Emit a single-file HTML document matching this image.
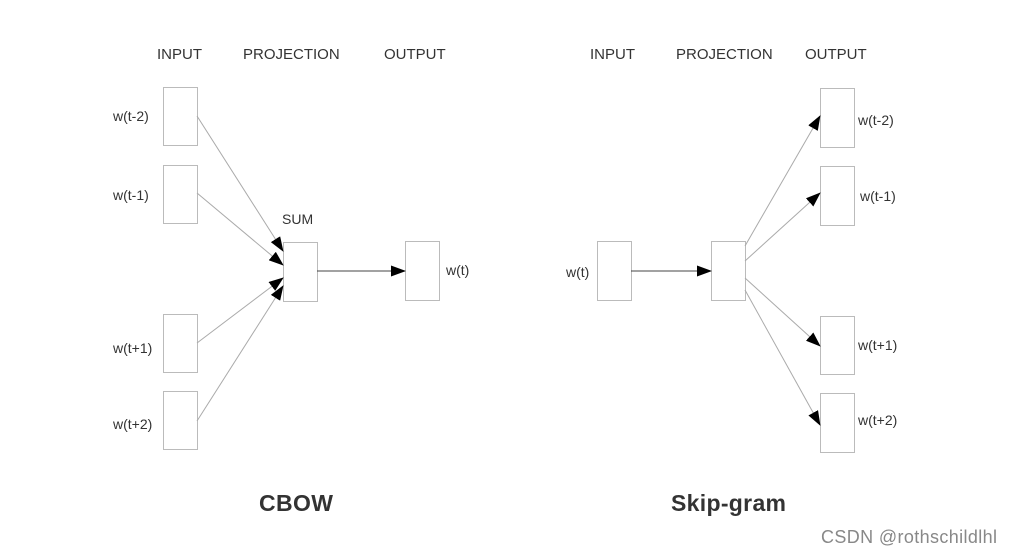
<!DOCTYPE html>
<html><head><meta charset="utf-8"><style>
html,body{margin:0;padding:0;background:#fff}
svg{display:block}
text{font-family:"Liberation Sans",Arial,sans-serif;fill:#333}
</style></head><body>
<svg width="1013" height="554" viewBox="0 0 1013 554" xmlns="http://www.w3.org/2000/svg">
<defs>
<marker id="a" markerWidth="15" markerHeight="11" refX="14" refY="5.5" orient="auto" markerUnits="userSpaceOnUse">
<path d="M0,0 L15,5.5 L0,11 z" fill="#000"/></marker>
</defs>
<g font-size="15">
<text x="157" y="59">INPUT</text>
<text x="243" y="59">PROJECTION</text>
<text x="384" y="59">OUTPUT</text>
<text x="590" y="59">INPUT</text>
<text x="676" y="59">PROJECTION</text>
<text x="805" y="59">OUTPUT</text>
</g>
<g fill="#fff" stroke="#bbb" stroke-width="1">
<rect x="163.5" y="87.5" width="34" height="58"/>
<rect x="163.5" y="165.5" width="34" height="58"/>
<rect x="163.5" y="314.5" width="34" height="58"/>
<rect x="163.5" y="391.5" width="34" height="58"/>
<rect x="283.5" y="242.5" width="34" height="59"/>
<rect x="405.5" y="241.5" width="34" height="59"/>
<rect x="597.5" y="241.5" width="34" height="59"/>
<rect x="711.5" y="241.5" width="34" height="59"/>
<rect x="820.5" y="88.5" width="34" height="59"/>
<rect x="820.5" y="166.5" width="34" height="59"/>
<rect x="820.5" y="316.5" width="34" height="58"/>
<rect x="820.5" y="393.5" width="34" height="59"/>
</g>
<g stroke="#aaa" stroke-width="1" fill="none" marker-end="url(#a)">
<line x1="197" y1="116" x2="283" y2="251"/>
<line x1="197" y1="193" x2="283" y2="265"/>
<line x1="197" y1="343" x2="283" y2="278"/>
<line x1="197" y1="421" x2="283" y2="286"/>
<line x1="631" y1="271" x2="711" y2="271" stroke="#444"/>
<line x1="745" y1="246" x2="820" y2="116"/>
<line x1="745" y1="261" x2="820" y2="193"/>
<line x1="745" y1="278" x2="820" y2="346"/>
<line x1="745" y1="290" x2="820" y2="425"/>
<line x1="317" y1="271" x2="405" y2="271" stroke="#444"/>
</g>
<g font-size="14">
<text x="113" y="121">w(t-2)</text>
<text x="113" y="200">w(t-1)</text>
<text x="113" y="353">w(t+1)</text>
<text x="113" y="429">w(t+2)</text>
<text x="282" y="224">SUM</text>
<text x="446" y="275">w(t)</text>
<text x="566" y="277">w(t)</text>
<text x="858" y="125">w(t-2)</text>
<text x="860" y="201">w(t-1)</text>
<text x="858" y="350">w(t+1)</text>
<text x="858" y="425">w(t+2)</text>
</g>
<text x="259" y="511" font-size="23" font-weight="bold" textLength="74">CBOW</text>
<text x="671" y="511" font-size="23" font-weight="bold" textLength="115">Skip-gram</text>
<text x="821" y="543" font-size="18" style="fill:#888" textLength="176">CSDN @rothschildlhl</text>
</svg>
</body></html>
